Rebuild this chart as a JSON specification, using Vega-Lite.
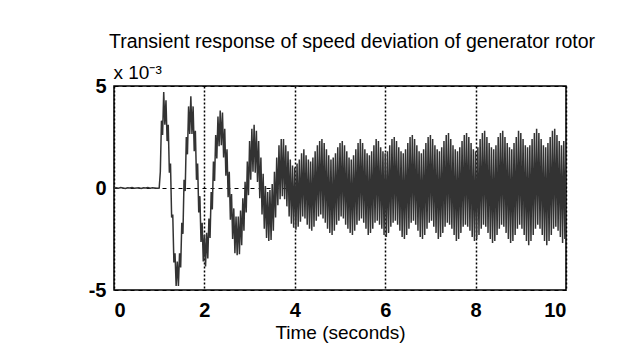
{
  "$schema": "https://vega.github.io/schema/vega-lite/v6.json",
  "width": 452,
  "height": 204,
  "autosize": "none",
  "padding": {"left": 114, "top": 86, "right": 69, "bottom": 64},
  "background": "white",
  "title": {
    "text": "Transient response of speed deviation of generator rotor",
    "font": "Liberation Sans",
    "fontSize": 19.5,
    "fontWeight": "normal",
    "color": "black",
    "frame": "group",
    "anchor": "middle",
    "dx": 12,
    "offset": 11
  },
  "data": {
    "values": [
      {"t":0,"v":0},{"t":0.05,"v":0.01},{"t":0.1,"v":-0.01},{"t":0.15,"v":0.02},{"t":0.2,"v":0},{"t":0.25,"v":-0.02},{"t":0.3,"v":0.01},{"t":0.35,"v":0},{"t":0.4,"v":0.02},{"t":0.45,"v":-0.01},{"t":0.5,"v":0},{"t":0.55,"v":0.01},{"t":0.6,"v":-0.02},{"t":0.65,"v":0.01},{"t":0.7,"v":0},{"t":0.75,"v":0.02},{"t":0.8,"v":-0.01},{"t":0.85,"v":0.01},{"t":0.9,"v":0},{"t":0.95,"v":-0.01},
      {"t":1.0,"v":0.0},{"t":1.025,"v":0.8},{"t":1.05,"v":3.3},{"t":1.075,"v":2.6},{"t":1.1,"v":4.7},{"t":1.125,"v":3.1},{"t":1.15,"v":4.3},{"t":1.175,"v":2.3},{"t":1.2,"v":3.1},{"t":1.225,"v":0.75},{"t":1.25,"v":1.2},{"t":1.275,"v":-1.45},{"t":1.3,"v":-1.3},{"t":1.325,"v":-3.65},{"t":1.35,"v":-3.2},{"t":1.375,"v":-4.8},{"t":1.4,"v":-3.6},{"t":1.425,"v":-4.8},{"t":1.45,"v":-3.2},{"t":1.475,"v":-3.9},
      {"t":1.5,"v":-1.7},{"t":1.525,"v":-2.25},{"t":1.55,"v":0.4},{"t":1.575,"v":-0.15},{"t":1.6,"v":2.5},{"t":1.625,"v":1.65},{"t":1.65,"v":4.0},{"t":1.675,"v":2.65},{"t":1.7,"v":4.5},{"t":1.725,"v":2.65},{"t":1.75,"v":4.0},{"t":1.775,"v":1.8},{"t":1.8,"v":2.8},{"t":1.825,"v":0.4},{"t":1.85,"v":1.2},{"t":1.875,"v":-1.2},{"t":1.9,"v":-0.4},{"t":1.925,"v":-2.65},{"t":1.95,"v":-1.7},{"t":1.975,"v":-3.6},
      {"t":2.0,"v":-2.3},{"t":2.025,"v":-3.85},{"t":2.05,"v":-2.2},{"t":2.075,"v":-3.45},{"t":2.1,"v":-1.5},{"t":2.125,"v":-2.45},{"t":2.15,"v":-0.2},{"t":2.175,"v":-1.05},{"t":2.2,"v":1.3},{"t":2.225,"v":0.35},{"t":2.25,"v":2.6},{"t":2.275,"v":1.45},{"t":2.3,"v":3.5},{"t":2.325,"v":2.05},{"t":2.35,"v":3.8},{"t":2.375,"v":2.1},{"t":2.4,"v":3.7},{"t":2.425,"v":1.5},{"t":2.45,"v":2.9},{"t":2.475,"v":0.6},
      {"t":2.5,"v":1.9},{"t":2.525,"v":-0.45},{"t":2.55,"v":0.8},{"t":2.575,"v":-1.55},{"t":2.6,"v":-0.3},{"t":2.625,"v":-2.5},{"t":2.65,"v":-1.0},{"t":2.675,"v":-3.2},{"t":2.7,"v":-1.4},{"t":2.725,"v":-3.3},{"t":2.75,"v":-1.4},{"t":2.775,"v":-3.25},{"t":2.8,"v":-1.1},{"t":2.825,"v":-2.8},{"t":2.85,"v":-0.5},{"t":2.875,"v":-2.1},{"t":2.9,"v":0.3},{"t":2.925,"v":-1.2},{"t":2.95,"v":1.3},{"t":2.975,"v":-0.35},
      {"t":3.0,"v":2.3},{"t":3.025,"v":0.4},{"t":3.05,"v":2.9},{"t":3.075,"v":0.8},{"t":3.1,"v":3.1},{"t":3.125,"v":0.75},{"t":3.15,"v":2.8},{"t":3.175,"v":0.3},{"t":3.2,"v":2.3},{"t":3.225,"v":-0.5},{"t":3.25,"v":1.5},{"t":3.275,"v":-1.3},{"t":3.3,"v":0.7},{"t":3.325,"v":-2.0},{"t":3.35,"v":0.1},{"t":3.375,"v":-2.45},{"t":3.4,"v":-0.2},{"t":3.425,"v":-2.6},{"t":3.45,"v":-0.1},{"t":3.475,"v":-2.55},
      {"t":3.5,"v":0.2},{"t":3.525,"v":-2.1},{"t":3.55,"v":0.8},{"t":3.575,"v":-1.45},{"t":3.6,"v":1.5},{"t":3.625,"v":-0.85},{"t":3.65,"v":2.1},{"t":3.675,"v":-0.55},{"t":3.7,"v":2.4},{"t":3.725,"v":-0.4},{"t":3.75,"v":2.4},{"t":3.775,"v":-0.55},{"t":3.8,"v":2.1},{"t":3.825,"v":-0.9},{"t":3.85,"v":1.8},{"t":3.875,"v":-1.4},{"t":3.9,"v":1.4},{"t":3.925,"v":-1.75},{"t":3.95,"v":1.1},{"t":3.975,"v":-1.95},
      {"t":4.0,"v":1.0},{"t":4.025,"v":-2.05},{"t":4.05,"v":1.2},{"t":4.075,"v":-1.9},{"t":4.1,"v":1.4},{"t":4.125,"v":-1.65},{"t":4.15,"v":1.7},{"t":4.175,"v":-1.4},{"t":4.2,"v":1.9},{"t":4.225,"v":-1.5},{"t":4.25,"v":1.6},{"t":4.275,"v":-1.8},{"t":4.3,"v":1.4},{"t":4.325,"v":-2.0},{"t":4.35,"v":1.3},{"t":4.375,"v":-2.1},{"t":4.4,"v":1.5},{"t":4.425,"v":-1.9},{"t":4.45,"v":1.8},{"t":4.475,"v":-1.6},
      {"t":4.5,"v":2.1},{"t":4.525,"v":-1.4},{"t":4.55,"v":2.3},{"t":4.575,"v":-1.3},{"t":4.6,"v":2.4},{"t":4.625,"v":-1.5},{"t":4.65,"v":2.2},{"t":4.675,"v":-1.7},{"t":4.7,"v":1.9},{"t":4.725,"v":-2.0},{"t":4.75,"v":1.6},{"t":4.775,"v":-2.2},{"t":4.8,"v":1.4},{"t":4.825,"v":-2.3},{"t":4.85,"v":1.5},{"t":4.875,"v":-2.1},{"t":4.9,"v":1.7},{"t":4.925,"v":-1.8},{"t":4.95,"v":2.0},{"t":4.975,"v":-1.6},
      {"t":5.0,"v":2.2},{"t":5.025,"v":-1.4},{"t":5.05,"v":2.3},{"t":5.075,"v":-1.5},{"t":5.1,"v":2.1},{"t":5.125,"v":-1.8},{"t":5.15,"v":1.8},{"t":5.175,"v":-2.0},{"t":5.2,"v":1.5},{"t":5.225,"v":-2.2},{"t":5.25,"v":1.4},{"t":5.275,"v":-2.3},{"t":5.3,"v":1.6},{"t":5.325,"v":-2.1},{"t":5.35,"v":1.9},{"t":5.375,"v":-1.8},{"t":5.4,"v":2.2},{"t":5.425,"v":-1.6},{"t":5.45,"v":2.4},{"t":5.475,"v":-1.5},
      {"t":5.5,"v":2.2},{"t":5.525,"v":-1.7},{"t":5.55,"v":1.9},{"t":5.575,"v":-2.0},{"t":5.6,"v":1.7},{"t":5.625,"v":-2.3},{"t":5.65,"v":1.6},{"t":5.675,"v":-2.2},{"t":5.7,"v":1.8},{"t":5.725,"v":-2.0},{"t":5.75,"v":2.1},{"t":5.775,"v":-1.7},{"t":5.8,"v":2.4},{"t":5.825,"v":-1.6},{"t":5.85,"v":2.3},{"t":5.875,"v":-1.8},{"t":5.9,"v":2.0},{"t":5.925,"v":-2.0},{"t":5.95,"v":1.8},{"t":5.975,"v":-2.3},
      {"t":6.0,"v":1.7},{"t":6.025,"v":-2.4},{"t":6.05,"v":1.8},{"t":6.075,"v":-2.2},{"t":6.1,"v":2.1},{"t":6.125,"v":-1.9},{"t":6.15,"v":2.4},{"t":6.175,"v":-1.7},{"t":6.2,"v":2.5},{"t":6.225,"v":-1.6},{"t":6.25,"v":2.3},{"t":6.275,"v":-1.8},{"t":6.3,"v":2.0},{"t":6.325,"v":-2.1},{"t":6.35,"v":1.8},{"t":6.375,"v":-2.4},{"t":6.4,"v":1.7},{"t":6.425,"v":-2.5},{"t":6.45,"v":1.9},{"t":6.475,"v":-2.3},
      {"t":6.5,"v":2.2},{"t":6.525,"v":-2.0},{"t":6.55,"v":2.5},{"t":6.575,"v":-1.7},{"t":6.6,"v":2.6},{"t":6.625,"v":-1.6},{"t":6.65,"v":2.4},{"t":6.675,"v":-1.8},{"t":6.7,"v":2.1},{"t":6.725,"v":-2.1},{"t":6.75,"v":1.8},{"t":6.775,"v":-2.4},{"t":6.8,"v":1.7},{"t":6.825,"v":-2.5},{"t":6.85,"v":1.9},{"t":6.875,"v":-2.3},{"t":6.9,"v":2.2},{"t":6.925,"v":-2.0},{"t":6.95,"v":2.5},{"t":6.975,"v":-1.7},
      {"t":7.0,"v":2.6},{"t":7.025,"v":-1.6},{"t":7.05,"v":2.4},{"t":7.075,"v":-1.9},{"t":7.1,"v":2.1},{"t":7.125,"v":-2.2},{"t":7.15,"v":1.9},{"t":7.175,"v":-2.5},{"t":7.2,"v":1.8},{"t":7.225,"v":-2.4},{"t":7.25,"v":2.0},{"t":7.275,"v":-2.2},{"t":7.3,"v":2.3},{"t":7.325,"v":-1.9},{"t":7.35,"v":2.6},{"t":7.375,"v":-1.7},{"t":7.4,"v":2.7},{"t":7.425,"v":-1.8},{"t":7.45,"v":2.4},{"t":7.475,"v":-2.0},
      {"t":7.5,"v":2.1},{"t":7.525,"v":-2.3},{"t":7.55,"v":1.9},{"t":7.575,"v":-2.6},{"t":7.6,"v":1.8},{"t":7.625,"v":-2.5},{"t":7.65,"v":2.0},{"t":7.675,"v":-2.2},{"t":7.7,"v":2.3},{"t":7.725,"v":-1.9},{"t":7.75,"v":2.6},{"t":7.775,"v":-1.8},{"t":7.8,"v":2.7},{"t":7.825,"v":-1.9},{"t":7.85,"v":2.5},{"t":7.875,"v":-2.1},{"t":7.9,"v":2.2},{"t":7.925,"v":-2.4},{"t":7.95,"v":1.9},{"t":7.975,"v":-2.6},
      {"t":8.0,"v":1.8},{"t":8.025,"v":-2.5},{"t":8.05,"v":2.0},{"t":8.075,"v":-2.3},{"t":8.1,"v":2.4},{"t":8.125,"v":-2.0},{"t":8.15,"v":2.7},{"t":8.175,"v":-1.8},{"t":8.2,"v":2.8},{"t":8.225,"v":-1.9},{"t":8.25,"v":2.5},{"t":8.275,"v":-2.2},{"t":8.3,"v":2.2},{"t":8.325,"v":-2.5},{"t":8.35,"v":2.0},{"t":8.375,"v":-2.7},{"t":8.4,"v":1.9},{"t":8.425,"v":-2.6},{"t":8.45,"v":2.1},{"t":8.475,"v":-2.3},
      {"t":8.5,"v":2.5},{"t":8.525,"v":-2.0},{"t":8.55,"v":2.7},{"t":8.575,"v":-1.8},{"t":8.6,"v":2.8},{"t":8.625,"v":-1.9},{"t":8.65,"v":2.5},{"t":8.675,"v":-2.2},{"t":8.7,"v":2.2},{"t":8.725,"v":-2.5},{"t":8.75,"v":2.0},{"t":8.775,"v":-2.7},{"t":8.8,"v":1.9},{"t":8.825,"v":-2.6},{"t":8.85,"v":2.2},{"t":8.875,"v":-2.3},{"t":8.9,"v":2.5},{"t":8.925,"v":-2.0},{"t":8.95,"v":2.8},{"t":8.975,"v":-1.8},
      {"t":9.0,"v":2.7},{"t":9.025,"v":-2.0},{"t":9.05,"v":2.4},{"t":9.075,"v":-2.3},{"t":9.1,"v":2.1},{"t":9.125,"v":-2.6},{"t":9.15,"v":2.0},{"t":9.175,"v":-2.8},{"t":9.2,"v":2.1},{"t":9.225,"v":-2.6},{"t":9.25,"v":2.4},{"t":9.275,"v":-2.3},{"t":9.3,"v":2.7},{"t":9.325,"v":-2.0},{"t":9.35,"v":2.9},{"t":9.375,"v":-1.8},{"t":9.4,"v":2.7},{"t":9.425,"v":-2.0},{"t":9.45,"v":2.4},{"t":9.475,"v":-2.3},
      {"t":9.5,"v":2.1},{"t":9.525,"v":-2.6},{"t":9.55,"v":2.0},{"t":9.575,"v":-2.8},{"t":9.6,"v":2.2},{"t":9.625,"v":-2.6},{"t":9.65,"v":2.5},{"t":9.675,"v":-2.3},{"t":9.7,"v":2.8},{"t":9.725,"v":-2.0},{"t":9.75,"v":2.9},{"t":9.775,"v":-1.9},{"t":9.8,"v":2.6},{"t":9.825,"v":-2.1},{"t":9.85,"v":2.3},{"t":9.875,"v":-2.4},{"t":9.9,"v":2.1},{"t":9.925,"v":-2.7},{"t":9.95,"v":2.3},{"t":9.975,"v":-2.5},
      {"t":10.0,"v":2.6}
    ]
  },
  "mark": {"type": "line", "color": "#333333", "strokeWidth": 1.5, "clip": true},
  "encoding": {
    "x": {
      "field": "t",
      "type": "quantitative",
      "scale": {"domain": [0, 10], "nice": false, "zero": false},
      "axis": {
        "title": "Time (seconds)",
        "values": [0, 2, 4, 6, 8, 10],
        "grid": true,
        "gridColor": "black",
        "gridDash": [2, 2],
        "gridWidth": 1.5,
        "gridOpacity": 1,
        "domain": false,
        "ticks": false,
        "labelPadding": 10,
        "labelFont": "Liberation Sans",
        "labelFontSize": 20,
        "labelFontWeight": "bold",
        "labelColor": "black",
        "titleFont": "Liberation Sans",
        "titleFontSize": 19,
        "titleFontWeight": "normal",
        "titleColor": "black",
        "titlePadding": 3
      }
    },
    "y": {
      "field": "v",
      "type": "quantitative",
      "scale": {"domain": [-5, 5], "nice": false},
      "axis": {
        "title": "x 10⁻³",
        "values": [-5, 0, 5],
        "labelExpr": "'' + datum.value",
        "grid": true,
        "gridColor": "black",
        "gridDash": [4, 4],
        "gridWidth": 1.2,
        "gridOpacity": 1,
        "domain": false,
        "ticks": false,
        "labelPadding": 8,
        "labelFont": "Liberation Sans",
        "labelFontSize": 20,
        "labelFontWeight": "bold",
        "labelColor": "black",
        "labelBaseline": "middle",
        "titleFont": "Liberation Sans",
        "titleFontSize": 19,
        "titleFontWeight": "normal",
        "titleColor": "black",
        "titleAngle": 0,
        "titleAlign": "left",
        "titleBaseline": "alphabetic",
        "titleX": -1,
        "titleY": -8
      }
    }
  },
  "config": {
    "view": {"stroke": "black", "strokeWidth": 1.5}
  }
}
